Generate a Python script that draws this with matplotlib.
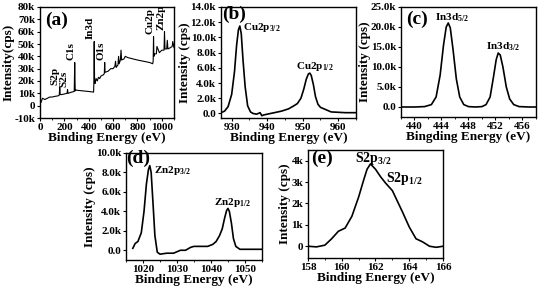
import matplotlib
matplotlib.use('Agg')
import matplotlib.pyplot as plt
from matplotlib.ticker import FuncFormatter, AutoMinorLocator

plt.rcParams['font.family'] = 'Liberation Serif'
plt.rcParams['font.weight'] = 'bold'
plt.rcParams['axes.labelweight'] = 'bold'
plt.rcParams['axes.linewidth'] = 1.0
plt.rcParams['mathtext.fontset'] = 'custom'
plt.rcParams['mathtext.rm'] = 'Liberation Serif:bold'
plt.rcParams['mathtext.bf'] = 'Liberation Serif:bold'

# (a) survey spectrum
survey_x = [0, 10, 20, 40, 60, 80, 100, 120, 150, 158, 162, 166, 180, 200, 222, 226, 230,
            260, 281, 285, 289, 292, 300, 350, 400, 440, 442, 445, 448, 452, 460, 470, 480,
            490, 500, 520, 528, 531, 534, 560, 580, 600, 615, 620, 625, 640, 645, 650, 660,
            665, 670, 690, 700, 720, 760, 800, 850, 900, 925, 929, 932, 935, 940, 955, 960,
            980, 1000, 1018, 1022, 1026, 1040, 1045, 1050, 1070, 1085, 1090, 1100]
survey_y = [1.5, 3, 6, 5, 6, 7, 7, 7.5, 8, 8.5, 15, 9, 9, 9.5, 10, 13, 10,
            11, 11.5, 35, 12, 13, 12.5, 12, 11.5, 11, 18, 52, 20, 18, 22, 20, 23,
            22, 24, 25, 26, 35, 27, 28, 30, 30, 32, 36, 31, 33, 40, 34, 37,
            45, 37, 38, 40, 39, 38, 37, 36, 35, 34, 36, 56, 40, 42, 42, 48,
            43, 45, 45, 60, 46, 46, 53, 46, 47, 48, 52, 47]

# (b) Cu 2p
cu_x = [927, 928, 929, 930, 930.8, 931.4, 931.9, 932.3, 932.7, 933.2, 933.8, 934.5, 935.3,
        936, 937, 938, 938.5, 939, 940, 942, 944, 946, 947.5, 948.5, 949.5, 950.3, 951,
        951.6, 952, 952.4, 953, 953.6, 954.3, 955, 956, 957, 958, 960, 962, 965]
cu_y = [0.1, 0.3, 0.9, 2.5, 5.5, 9.0, 11.0, 11.5, 10.5, 7.0, 3.5, 1.0, 0.2,
        0.0, -0.1, 0.1, -0.3, -0.2, -0.1, 0.1, 0.3, 0.6, 1.0, 1.3, 2.0, 3.2, 4.5,
        5.2, 5.3, 5.0, 3.8, 2.2, 1.2, 0.8, 0.6, 0.4, 0.2, 0.15, 0.1, 0.1]

# (c) In 3d
in_x = [438, 440, 441.5, 442.5, 443.2, 443.8, 444.3, 444.7, 445.0, 445.3, 445.7, 446.2,
        446.7, 447.3, 448, 449, 450, 450.6, 451.2, 451.7, 452.1, 452.4, 452.7, 453.1, 453.6,
        454.1, 454.7, 455.5, 457, 458]
in_y = [0, 0, 0.1, 0.6, 2.5, 8.0, 15.5, 20.0, 21.0, 19.8, 14.5, 7.0,
        2.5, 0.6, 0.1, 0.0, 0.1, 0.6, 2.5, 7.5, 11.8, 13.5, 13.0, 10.0, 5.0,
        2.0, 0.6, 0.1, 0.0, 0.0]

# (d) Zn 2p
zn_x = [1017, 1017.7, 1018.5, 1019.5, 1020.3, 1021, 1021.6, 1022, 1022.4, 1023, 1023.5,
        1024.2, 1025, 1027, 1029, 1031, 1032.5, 1034, 1035, 1037, 1039, 1040.5, 1041.5,
        1042.5, 1043.3, 1044, 1044.6, 1045, 1045.4, 1046, 1046.6, 1047.3, 1048.5, 1051,
        1053, 1055]
zn_y = [0.2, 0.7, 0.9, 1.8, 4.0, 6.8, 8.3, 8.7, 8.0, 4.5, 1.5,
        -0.2, -0.4, -0.3, -0.3, 0.0, 0.0, 0.3, 0.4, 0.4, 0.4, 0.6, 0.9,
        1.5, 2.2, 3.3, 4.1, 4.3, 4.0, 2.8, 1.2, 0.4, 0.1, 0.1,
        0.1, 0.1]

# (e) S 2p
s_x = [158, 158.5, 159, 159.4, 159.8, 160.2, 160.6, 161, 161.3, 161.5, 161.7, 162, 162.3,
       162.6, 163, 163.3, 163.6, 164, 164.4, 164.8, 165.2, 165.6, 166]
s_y = [0.0, -0.03, 0.05, 0.35, 0.7, 0.85, 1.4, 2.3, 3.1, 3.6, 3.85, 3.6, 3.25,
       2.95, 2.6, 2.1, 1.6, 0.9, 0.35, 0.2, 0.0, -0.05, 0.0]


def kfmt(dec):
    def f(v, pos):
        if abs(v) < 1e-9:
            return '0.0' if dec else '0'
        if dec:
            return '%.1fk' % v
        return '%dk' % round(v)
    return FuncFormatter(f)


fig = plt.figure(figsize=(5.41, 2.92), dpi=100)
W, H = 541.0, 292.0


def make_ax(l, t, r, b):
    ax = fig.add_axes([l / W, 1 - b / H, (r - l) / W, (b - t) / H])
    ax.tick_params(labelsize=8, width=0.8, length=2.5, pad=1)
    ax.tick_params(which='minor', length=1.5, width=0.6)
    return ax


def bold_ticks(ax):
    for lab in ax.get_xticklabels() + ax.get_yticklabels():
        lab.set_fontweight('bold')


lab_kw = dict(fontsize=9.5, fontweight='bold', labelpad=0)
anno_kw = dict(fontsize=8, fontweight='bold')
sub = lambda s, t: s + r'$_{\mathregular{' + t + '}}$'

# (a)
ax = make_ax(40, 7, 174, 118)
ax.plot(survey_x, survey_y, color='k', lw=0.8)
ax.set_xlim(0, 1100)
ax.set_ylim(-10, 80)
ax.set_yticks(range(-10, 81, 10))
ax.yaxis.set_major_formatter(kfmt(False))
ax.set_xticks([0, 200, 400, 600, 800, 1000])
ax.xaxis.set_minor_locator(AutoMinorLocator(2))
ax.set_xlabel('Binding Energy (eV)', **lab_kw)
ax.set_ylabel('Intensity(cps)', **lab_kw)
ax.text(0.04, 0.96, '(a)', transform=ax.transAxes, fontsize=14, fontweight='bold', va='top')
for name, xx, yy in [('S2p', 160, 17), ('S2s', 236, 15), ('C1s', 290, 37), ('In3d', 450, 54),
                     ('O1s', 536, 37), ('Cu2p', 937, 58), ('Zn2p', 1027, 61)]:
    ax.text(xx, yy, name, rotation=90, ha='right', va='bottom', fontsize=8, fontweight='bold')
bold_ticks(ax)

# (b)
ax = make_ax(221, 7, 356, 118)
ax.plot(cu_x, cu_y, color='k', lw=1.2)
ax.set_xlim(927, 965)
ax.set_ylim(-0.6, 14)
ax.set_yticks([0, 2, 4, 6, 8, 10, 12, 14])
ax.yaxis.set_major_formatter(kfmt(True))
ax.set_xticks([930, 940, 950, 960])
ax.xaxis.set_minor_locator(AutoMinorLocator(2))
ax.set_xlabel('Binding Energy (eV)', **lab_kw)
ax.set_ylabel('Intensity (cps)', **lab_kw)
ax.text(0.01, 1.01, '(b)', transform=ax.transAxes, fontsize=14, fontweight='bold', va='top')
ax.text(933.3, 11.0, sub('Cu2p', '3/2'), **anno_kw)
ax.text(948.2, 5.9, sub('Cu2p', '1/2'), **anno_kw)
bold_ticks(ax)

# (c)
ax = make_ax(401, 7, 536, 117)
ax.plot(in_x, in_y, color='k', lw=1.2)
ax.set_xlim(438, 458)
ax.set_ylim(-2.5, 25)
ax.set_yticks([0, 5, 10, 15, 20, 25])
ax.yaxis.set_major_formatter(kfmt(True))
ax.set_xticks([440, 444, 448, 452, 456])
ax.xaxis.set_minor_locator(AutoMinorLocator(2))
ax.set_xlabel('Bingding Energy (eV)', **lab_kw)
ax.set_ylabel('Intensity (cps)', **lab_kw)
ax.text(0.04, 0.97, '(c)', transform=ax.transAxes, fontsize=14, fontweight='bold', va='top')
ax.text(443.0, 21.8, sub('In3d', '5/2'), **anno_kw)
ax.text(450.6, 14.5, sub('In3d', '3/2'), **anno_kw)
bold_ticks(ax)

# (d)
ax = make_ax(126, 153, 262, 260)
ax.plot(zn_x, zn_y, color='k', lw=1.2)
ax.set_xlim(1015, 1055)
ax.set_ylim(-1.0, 10)
ax.set_yticks([0, 2, 4, 6, 8, 10])
ax.yaxis.set_major_formatter(kfmt(True))
ax.set_xticks([1020, 1030, 1040, 1050])
ax.xaxis.set_minor_locator(AutoMinorLocator(2))
ax.set_xlabel('Binding Energy (eV)', **lab_kw)
ax.set_ylabel('Intensity (cps)', **lab_kw)
ax.text(0.0, 1.03, '(d)', transform=ax.transAxes, fontsize=14, fontweight='bold', va='top')
ax.text(1023.3, 7.9, sub('Zn2p', '3/2'), **anno_kw)
ax.text(1041.0, 4.7, sub('Zn2p', '1/2'), **anno_kw)
bold_ticks(ax)

# (e)
ax = make_ax(308, 150, 443, 258)
ax.plot(s_x, s_y, color='k', lw=1.2)
ax.set_xlim(158, 166)
ax.set_ylim(-0.55, 4.5)
ax.set_yticks([0, 1, 2, 3, 4])
ax.yaxis.set_major_formatter(kfmt(False))
ax.set_xticks([158, 160, 162, 164, 166])
ax.xaxis.set_minor_locator(AutoMinorLocator(2))
ax.set_xlabel('Binding Energy (eV)', **lab_kw)
ax.set_ylabel('Intensity (cps)', **lab_kw)
ax.text(0.02, 1.0, '(e)', transform=ax.transAxes, fontsize=14, fontweight='bold', va='top')
ax.text(160.8, 3.95, sub('S2p', '3/2'), fontsize=10, fontweight='bold')
ax.text(162.6, 3.0, sub('S2p', '1/2'), fontsize=10, fontweight='bold')
bold_ticks(ax)

fig.savefig('out.png', dpi=100)
